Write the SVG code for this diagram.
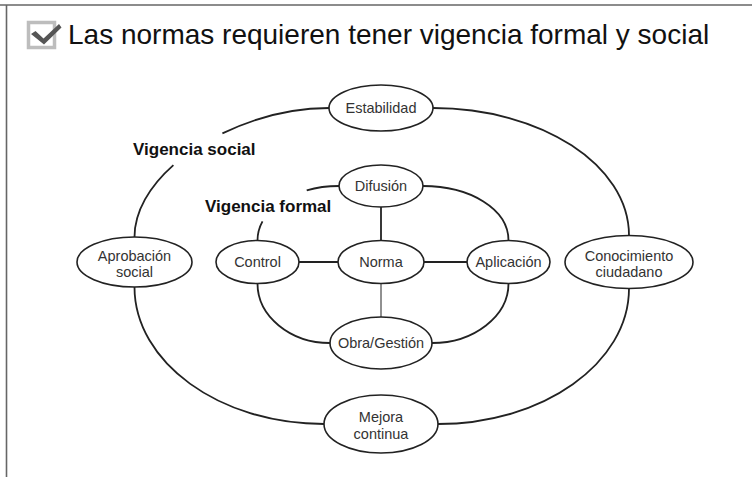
<svg xmlns="http://www.w3.org/2000/svg" width="752" height="477" viewBox="0 0 752 477">
  <style>
    .node ellipse { fill: #fff; stroke: #222; stroke-width: 1.6; }
    .node text { font-family: "Liberation Sans", Arial, sans-serif; font-size: 14.5px; fill: #333; text-anchor: middle; }
    .conn path { fill: none; stroke: #222; stroke-width: 1.8; }
    .conn .thin { stroke-width: 1; }
    .lbl { font-family: "Liberation Sans", Arial, sans-serif; font-size: 17px; font-weight: bold; fill: #111; }
    .title { font-family: "Liberation Sans", Arial, sans-serif; font-size: 28px; fill: #111; }
  </style>
  <rect width="752" height="477" fill="#fff"/>
  <!-- frame -->
  <g id="frame" stroke="#666" stroke-width="1.6" fill="none">
    <path d="M0,5 H752"/>
    <path d="M6.5,5 V477"/>
  </g>
  <!-- header -->
  <g id="header">
    <rect x="28.5" y="22.5" width="26" height="25" fill="#fff" stroke="#bdbdbd" stroke-width="3.5"/>
    <polygon points="31,34 35.5,31 43.5,38.5 59,24 61.5,27.5 44,44.5" fill="#555"/>
    <text class="title" x="68" y="44">Las normas requieren tener vigencia formal y social</text>
  </g>
  <!-- connectors -->
  <g id="connectors" class="conn">
    <path d="M433,108 C541,108 629,165 629,235.5"/>
    <path d="M629,288.5 C629,363 543,424 438,424"/>
    <path d="M324,424 C219,424 134.5,362 134.5,287"/>
    <path d="M134.5,237 C134.5,211.6 149.5,186.2 173.4,165.1"/>
    <path d="M222.4,133.4 C255.6,117.4 293.8,108 329,108"/>
    <path d="M423,186 C470,186 508.5,209 508.5,240.5"/>
    <path d="M508.5,283.5 C508.5,316 474,343 432,343"/>
    <path d="M330,343 C290,343 257.5,316 257.5,283.5"/>
    <path d="M257.5,240.5 C257.5,233.4 259.3,227.2 262.5,221.4"/>
    <path d="M306.7,190.3 C316.3,187.5 326.9,186 339,186"/>
    <path d="M299,262 H338"/>
    <path d="M424,262 H467"/>
    <path d="M381,207 V240.5"/>
    <path class="thin" d="M381,283.5 V317"/>
  </g>
  <!-- labels -->
  <text class="lbl" x="133" y="155">Vigencia social</text>
  <text class="lbl" x="205" y="212">Vigencia formal</text>
  <!-- nodes -->
  <g id="estabilidad" class="node">
    <ellipse cx="381" cy="108" rx="52" ry="23"/>
    <text x="381" y="113">Estabilidad</text>
  </g>
  <g id="difusion" class="node">
    <ellipse cx="381" cy="186" rx="42" ry="21"/>
    <text x="381" y="191">Difusión</text>
  </g>
  <g id="aprobacion" class="node">
    <ellipse cx="134.5" cy="262" rx="57.5" ry="25"/>
    <text x="134.5" y="261">Aprobación</text>
    <text x="134.5" y="277">social</text>
  </g>
  <g id="control" class="node">
    <ellipse cx="257.5" cy="262" rx="41.5" ry="21.5"/>
    <text x="257.5" y="267">Control</text>
  </g>
  <g id="norma" class="node">
    <ellipse cx="381" cy="262" rx="43" ry="21.5"/>
    <text x="381" y="267">Norma</text>
  </g>
  <g id="aplicacion" class="node">
    <ellipse cx="508.5" cy="262" rx="41.5" ry="21.5"/>
    <text x="508.5" y="267">Aplicación</text>
  </g>
  <g id="conocimiento" class="node">
    <ellipse cx="629" cy="262" rx="64" ry="26.5"/>
    <text x="629" y="261">Conocimiento</text>
    <text x="629" y="277">ciudadano</text>
  </g>
  <g id="obra" class="node">
    <ellipse cx="381" cy="343" rx="51" ry="26"/>
    <text x="381" y="348">Obra/Gestión</text>
  </g>
  <g id="mejora" class="node">
    <ellipse cx="381" cy="424" rx="57" ry="29"/>
    <text x="381" y="422">Mejora</text>
    <text x="381" y="439">continua</text>
  </g>
</svg>
